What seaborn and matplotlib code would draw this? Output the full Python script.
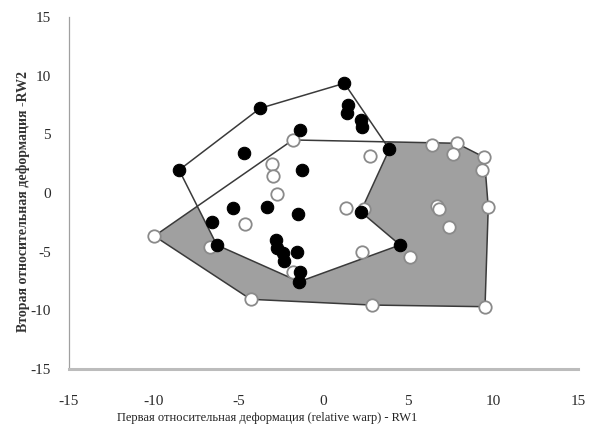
import matplotlib
matplotlib.use("Agg")
import matplotlib.pyplot as plt
import seaborn as sns
import pandas as pd

# Group 1: filled (black) points
filled_x = [1.23, -3.74, -8.51, 1.43, 1.37, 2.21, 2.25, -1.38, 3.88, -4.68,
            -1.25, -5.35, -3.35, -1.52, -6.55, 2.19, -6.29, -2.80, -2.76, -2.37,
            -2.31, -1.58, -1.38, -1.43, 4.51]
filled_y = [9.35, 7.22, 1.96, 7.50, 6.79, 6.22, 5.65, 5.37, 3.73, 3.38,
            1.96, -1.25, -1.17, -1.82, -2.45, -1.59, -4.43, -4.01, -4.71, -5.14,
            -5.80, -5.00, -6.71, -7.56, -4.43]
# outline order (indices into filled arrays)
filled_outline = [2, 1, 0, 8, 15, 24, 23, 16]

# Group 2: open (white) points
open_x = [-1.81, 2.74, -3.05, -2.96, -2.76, 1.31, 2.40, -4.63, -9.97, -6.69,
          2.25, 5.10, -1.81, -4.29, 2.84, 6.38, 7.85, 7.65, 9.48, 9.36,
          9.71, 6.67, 6.81, 7.40, 9.52]
open_y = [4.52, 3.15, 2.45, 1.45, -0.09, -1.30, -1.39, -2.67, -3.67, -4.58,
          -5.00, -5.47, -6.71, -9.06, -9.55, 4.09, 4.24, 3.32, 3.04, 1.96,
          -1.22, -1.11, -1.39, -2.92, -9.69]
open_outline = [8, 0, 16, 18, 20, 24, 14, 13]

x_ticks = [-15, -10, -5, 0, 5, 10, 15]
y_ticks = [-15, -10, -5, 0, 5, 10, 15]
x_label = "Первая относительная деформация (relative warp) - RW1"
y_label = "Вторая относительная деформация -RW2"

sns.set_style("white")
plt.rcParams["font.family"] = ["Liberation Serif", "DejaVu Serif"]
plt.rcParams["axes.unicode_minus"] = False

fig = plt.figure(figsize=(5.98, 4.25), dpi=100)
ax = fig.add_axes([69 / 598, 1 - 369 / 425, (578 - 69) / 598, (369 - 17) / 425])

df_f = pd.DataFrame({"x": filled_x, "y": filled_y})
df_o = pd.DataFrame({"x": open_x, "y": open_y})

ox = [open_x[i] for i in open_outline]
oy = [open_y[i] for i in open_outline]
fx = [filled_x[i] for i in filled_outline]
fy = [filled_y[i] for i in filled_outline]

ax.fill(ox, oy, facecolor="#a0a0a0", edgecolor="none", zorder=1)
ax.fill(fx, fy, facecolor="white", edgecolor="none", zorder=2)
ax.fill(ox, oy, facecolor="none", edgecolor="#3a3a3a", linewidth=1.1, zorder=3)
ax.fill(fx, fy, facecolor="none", edgecolor="#3a3a3a", linewidth=1.1, zorder=3)

sns.scatterplot(data=df_o, x="x", y="y", ax=ax, s=80, color="white",
                edgecolor="#8a8a8a", linewidth=1.3, zorder=4, legend=False)
sns.scatterplot(data=df_f, x="x", y="y", ax=ax, s=80, color="black",
                edgecolor="black", linewidth=0.8, zorder=5, legend=False)

ax.set_xlim(-15, 15)
ax.set_ylim(-15, 15)
ax.set_xticks(x_ticks)
ax.set_yticks(y_ticks)
ax.set_xticklabels([str(t) for t in x_ticks])
ax.set_yticklabels([str(t) for t in y_ticks])

for s in ["top", "right"]:
    ax.spines[s].set_visible(False)
ax.spines["left"].set_color("#a0a0a0")
ax.spines["left"].set_linewidth(0.9)
ax.spines["bottom"].set_color("#bcbcbc")
ax.spines["bottom"].set_linewidth(2.2)

ax.tick_params(axis="x", length=0, pad=19, labelsize=11, colors="#2a2a2a")
ax.tick_params(axis="y", length=3, width=0.8, color="#b0b0b0", pad=10,
               labelsize=11, labelcolor="#2a2a2a")

ax.set_xlabel(x_label, fontsize=9, color="#222222")
ax.xaxis.label.set_va("center")
ax.xaxis.set_label_coords(0.389, -0.139)
ax.set_ylabel(y_label, fontsize=10, fontweight="bold", color="#333333")
ax.yaxis.label.set_va("center")
ax.yaxis.set_label_coords(-0.09, 0.477)

fig.savefig("out.png", dpi=100)
